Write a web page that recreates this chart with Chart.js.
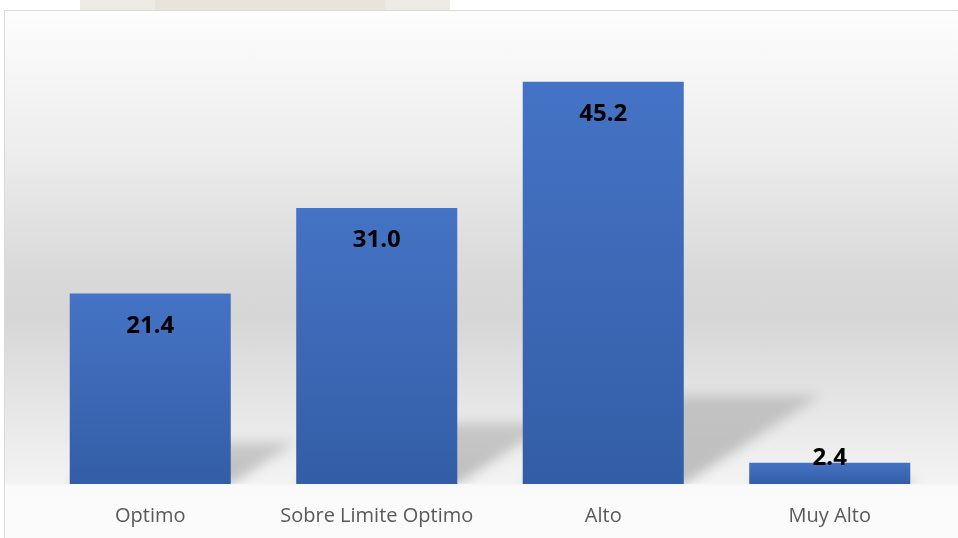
<!DOCTYPE html>
<html>
<head>
<meta charset="utf-8">
<script src="https://cdn.jsdelivr.net/npm/chart.js@4.4.1/dist/chart.umd.min.js"></script>
<style>
  html, body { margin: 0; padding: 0; background: #ffffff; }
  body { width: 958px; height: 538px; position: relative; overflow: hidden; }
  .marca { position: absolute; left: 80px; top: 0; width: 370px; height: 10px; background: #ecebe4; }
  .marca2 { position: absolute; left: 155px; top: 0; width: 230px; height: 10px; background: #e6e4db; }
  .panel {
    position: absolute; left: 4px; top: 10px; width: 953px; height: 527px;
    border-top: 1px solid #d9d9d9; border-left: 1px solid #d9d9d9;
    background: linear-gradient(to bottom,
      #fdfdfd 0%, #eeeeee 25%, #d9d9d9 50%, #d6d6d6 58%,
      #e6e6e6 75%, #f3f3f3 89.5%, #fafafa 90.2%, #fbfbfb 100%);
  }
  canvas { display: block; }
</style>
</head>
<body>
<div class="marca"></div>
<div class="marca2"></div>
<div class="panel">
  <canvas id="grafico" width="953" height="527"></canvas>
</div>
<script>
const categorias = ['Optimo', 'Sobre Limite Optimo', 'Alto', 'Muy Alto'];
const porcentajes = [21.4, 31.0, 45.2, 2.4];
const ejeMin = 0;
const ejeMax = 50;

// sombra en perspectiva que proyecta cada barra sobre el fondo
const sombraBarras = {
  id: 'sombraBarras',
  beforeDatasetsDraw(chart) {
    const ctx = chart.ctx;
    const area = chart.chartArea;
    ctx.save();
    ctx.beginPath();
    ctx.rect(area.left, area.top - 20, area.right - area.left + 20, area.bottom - area.top + 20);
    ctx.clip();
    ctx.filter = 'blur(6px)';
    chart.getDatasetMeta(0).data.forEach(bar => {
      const h = bar.base - bar.y;
      const w = bar.width;
      const dx = h * 0.34;
      const dy = h * 0.22;
      const g = ctx.createLinearGradient(0, bar.base, 0, bar.base - dy - 1);
      g.addColorStop(0, 'rgba(0,0,0,0.22)');
      g.addColorStop(1, 'rgba(0,0,0,0.14)');
      ctx.fillStyle = g;
      ctx.beginPath();
      ctx.moveTo(bar.x - w / 2, bar.base);
      ctx.lineTo(bar.x - w / 2 + dx, bar.base - dy);
      ctx.lineTo(bar.x + w / 2 + dx, bar.base - dy);
      ctx.lineTo(bar.x + w / 2, bar.base);
      ctx.closePath();
      ctx.fill();
    });
    ctx.restore();
  }
};

// etiqueta de valor dentro del extremo de cada barra
const etiquetasValor = {
  id: 'etiquetasValor',
  afterDatasetsDraw(chart) {
    const ctx = chart.ctx;
    ctx.save();
    ctx.font = 'bold 24px "Open Sans"';
    ctx.fillStyle = '#000000';
    ctx.textAlign = 'center';
    ctx.textBaseline = 'alphabetic';
    chart.getDatasetMeta(0).data.forEach((bar, i) => {
      const y = Math.min(bar.y + 39, bar.base - 19);
      ctx.fillText(porcentajes[i].toFixed(1), bar.x, y);
    });
    ctx.restore();
  }
};

new Chart(document.getElementById('grafico'), {
  type: 'bar',
  data: {
    labels: categorias,
    datasets: [{
      data: porcentajes,
      backgroundColor(context) {
        const chart = context.chart;
        const y = chart.scales.y;
        if (!y || typeof context.raw !== 'number') return '#4472c4';
        const top = y.getPixelForValue(context.raw);
        const base = y.getPixelForValue(0);
        if (!isFinite(top) || !isFinite(base) || top === base) return '#4472c4';
        const g = chart.ctx.createLinearGradient(0, top, 0, base);
        g.addColorStop(0, '#4573c5');
        g.addColorStop(1, '#335da6');
        return g;
      },
      borderWidth: 0,
      barPercentage: 0.711,
      categoryPercentage: 1
    }]
  },
  options: {
    responsive: false,
    animation: false,
    layout: { padding: { left: 32, right: 15, top: 28, bottom: 0 } },
    plugins: {
      legend: { display: false },
      tooltip: { enabled: false }
    },
    scales: {
      x: {
        grid: { display: false, drawTicks: false },
        border: { display: false },
        ticks: {
          color: '#595959',
          padding: 20,
          font: { family: 'Open Sans', size: 20 }
        },
        afterFit(scale) { scale.height = 54; }
      },
      y: {
        display: false,
        min: ejeMin,
        max: ejeMax
      }
    }
  },
  plugins: [sombraBarras, etiquetasValor]
});
</script>
</body>
</html>
